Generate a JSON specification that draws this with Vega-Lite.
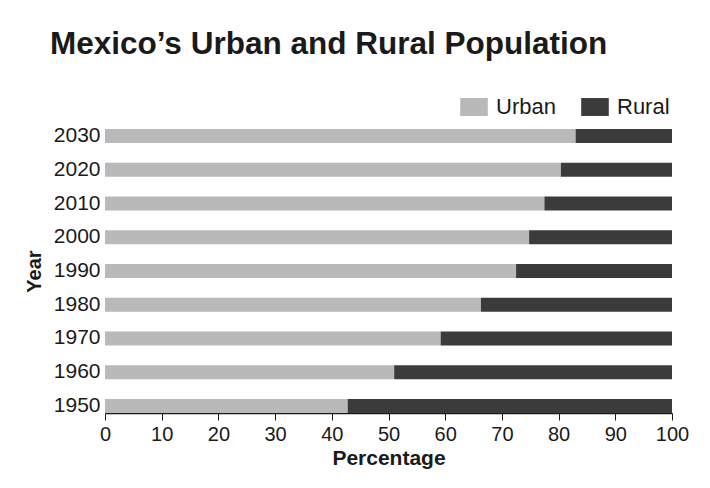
{
  "$schema": "https://vega.github.io/schema/vega-lite/v6.json",
  "width": 567,
  "height": 284,
  "autosize": "none",
  "padding": {"left": 105, "top": 129, "right": 38, "bottom": 75},
  "background": "#ffffff",
  "title": {
    "text": "Mexico’s Urban and Rural Population",
    "anchor": "start",
    "frame": "group",
    "font": "Liberation Sans",
    "fontSize": 31.5,
    "fontWeight": "bold",
    "color": "#1a1a1a",
    "dx": -55,
    "offset": 33
  },
  "data": {
    "values": [
      {"year": 1950, "type": "Urban", "pct": 42.8},
      {"year": 1950, "type": "Rural", "pct": 57.2},
      {"year": 1960, "type": "Urban", "pct": 51.0},
      {"year": 1960, "type": "Rural", "pct": 49.0},
      {"year": 1970, "type": "Urban", "pct": 59.2},
      {"year": 1970, "type": "Rural", "pct": 40.8},
      {"year": 1980, "type": "Urban", "pct": 66.3},
      {"year": 1980, "type": "Rural", "pct": 33.7},
      {"year": 1990, "type": "Urban", "pct": 72.5},
      {"year": 1990, "type": "Rural", "pct": 27.5},
      {"year": 2000, "type": "Urban", "pct": 74.8},
      {"year": 2000, "type": "Rural", "pct": 25.2},
      {"year": 2010, "type": "Urban", "pct": 77.5},
      {"year": 2010, "type": "Rural", "pct": 22.5},
      {"year": 2020, "type": "Urban", "pct": 80.4},
      {"year": 2020, "type": "Rural", "pct": 19.6},
      {"year": 2030, "type": "Urban", "pct": 83.0},
      {"year": 2030, "type": "Rural", "pct": 17.0}
    ]
  },
  "mark": {"type": "bar"},
  "encoding": {
    "y": {
      "field": "year",
      "type": "ordinal",
      "sort": "descending",
      "scale": {"paddingInner": 0.585, "paddingOuter": 0},
      "axis": {
        "title": "Year",
        "titleFont": "Liberation Sans",
        "titleFontSize": 20,
        "titleFontWeight": "bold",
        "titleColor": "#1a1a1a",
        "titlePadding": 9,
        "labelFont": "Liberation Sans",
        "labelFontSize": 21,
        "labelColor": "#1a1a1a",
        "labelPadding": 5,
        "ticks": false,
        "domain": false,
        "grid": false
      }
    },
    "x": {
      "field": "pct",
      "type": "quantitative",
      "stack": "zero",
      "scale": {"domain": [0, 100], "nice": false},
      "axis": {
        "title": "Percentage",
        "titleFont": "Liberation Sans",
        "titleFontSize": 21,
        "titleFontWeight": "bold",
        "titleColor": "#1a1a1a",
        "titlePadding": 3,
        "labelFont": "Liberation Sans",
        "labelFontSize": 20,
        "labelColor": "#1a1a1a",
        "labelPadding": 4,
        "values": [0, 10, 20, 30, 40, 50, 60, 70, 80, 90, 100],
        "tickSize": 7,
        "tickColor": "#1a1a1a",
        "domainColor": "#1a1a1a",
        "domainWidth": 1.5,
        "grid": false,
        "labelFlush": false
      }
    },
    "color": {
      "field": "type",
      "type": "nominal",
      "scale": {"domain": ["Urban", "Rural"], "range": ["#b9b9b9", "#3b3b3b"]},
      "legend": {
        "title": null,
        "orient": "none",
        "direction": "horizontal",
        "legendX": 355,
        "legendY": -36,
        "symbolType": "M-1,-0.65 h2 v1.3 h-2 z",
        "symbolSize": 762,
        "symbolStrokeWidth": 0,
        "labelFont": "Liberation Sans",
        "labelFontSize": 22,
        "labelColor": "#1a1a1a",
        "labelOffset": 8,
        "columnPadding": 25,
        "labelLimit": 200
      }
    },
    "order": {"field": "type", "sort": "descending"}
  },
  "config": {"view": {"stroke": null}}
}
